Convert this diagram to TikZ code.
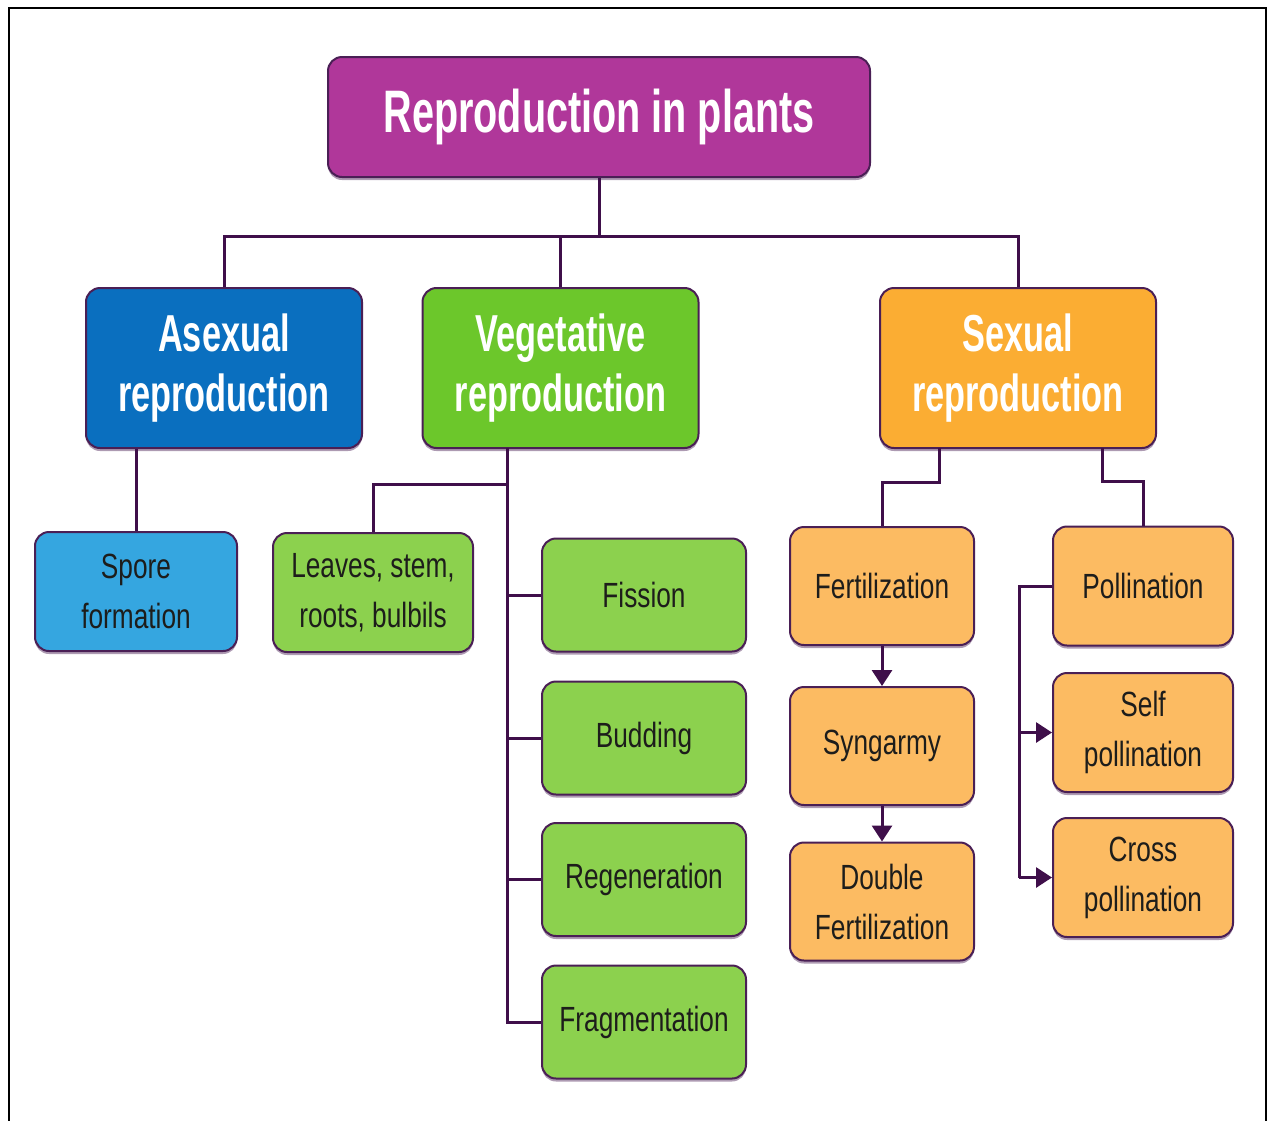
\documentclass[tikz,border=0pt]{standalone}
\usepackage{fontspec}
\setmainfont{Liberation Sans}[FakeStretch=0.75]
\newfontfamily\headfont{Liberation Sans}[FakeStretch=0.66]
\usetikzlibrary{arrows.meta,calc,shadows}
\definecolor{titlec}{HTML}{B0379A}
\definecolor{asexc}{HTML}{0A6FBF}
\definecolor{vegc}{HTML}{6CC72B}
\definecolor{sexc}{HTML}{FBAD33}
\definecolor{sporec}{HTML}{35A6E0}
\definecolor{greenc}{HTML}{8CD14E}
\definecolor{orangec}{HTML}{FCBB62}
\definecolor{edgec}{HTML}{4A1F55}
\definecolor{linec}{HTML}{3F0F4A}
\definecolor{txt}{HTML}{1D1D1B}
\begin{document}
\begin{tikzpicture}[x=0.5pt,y=-0.5pt,
  box/.style={draw=edgec, line width=1pt, rounded corners=7pt, inner sep=0pt, align=center,
    drop shadow={shadow xshift=0pt, shadow yshift=-1.5pt, opacity=0.45, fill=edgec}},
  topbox/.style={box, fill=titlec, text=white, minimum width=271pt, minimum height=60pt,
    font=\headfont\bfseries\fontsize{30}{34}\selectfont},
  big/.style={box, text=white, minimum width=138pt, minimum height=80pt,
    font=\headfont\bfseries\fontsize{26}{30}\selectfont},
  small/.style={box, text=txt, font=\fontsize{17.5}{25}\selectfont},
  vbox/.style={small, fill=greenc, minimum width=102pt, minimum height=56.5pt},
  fbox/.style={small, fill=orangec, minimum width=92pt, minimum height=59pt},
  pbox/.style={small, fill=orangec, minimum width=90pt, minimum height=59.5pt},
  conn/.style={draw=linec, line width=1.5pt},
  arr/.style={conn, -{Triangle[width=10pt,length=8pt]}}
]
\useasboundingbox (0,0) rectangle (1268,1120);
\draw[line width=1.1pt] (9,8) rectangle (1266,1140);

% nodes
\node[topbox] (title) at (599,117) {Reproduction in plants};
\node[big, fill=asexc] (asex) at (224,368) {Asexual\\reproduction};
\node[big, fill=vegc] (veg) at (560.5,368) {Vegetative\\reproduction};
\node[big, fill=sexc] (sex) at (1018,368) {Sexual\\reproduction};

\node[small, fill=sporec, minimum width=101pt, minimum height=59.5pt] (spore) at (136,591.5) {Spore\\formation};
\node[small, fill=greenc, minimum width=100pt, minimum height=59.5pt] (leaves) at (373,592.5) {Leaves, stem,\\roots, bulbils};

\node[vbox] (fission) at (644,595) {Fission};
\node[vbox] (budding) at (644,738) {Budding};
\node[vbox] (regen) at (644,879.5) {Regeneration};
\node[vbox] (frag) at (644,1022) {Fragmentation};

\node[fbox] (fert) at (882,586) {Fertilization};
\node[fbox] (syn) at (882,746) {Syngarmy};
\node[fbox] (dbl) at (882,901.5) {Double\\Fertilization};

\node[pbox] (poll) at (1143,586) {Pollination};
\node[pbox] (self) at (1143,732.5) {Self\\pollination};
\node[pbox] (cross) at (1143,877.5) {Cross\\pollination};

% junction coordinates
\coordinate (bar) at (599,236);
\coordinate (vt) at (507,448);
\coordinate (vj) at (507,484);
\coordinate (sl) at (939,448);
\coordinate (slj) at (939,482);
\coordinate (sr) at (1102,448);
\coordinate (srj) at (1102,481);
\coordinate (pt) at (1019,586);

% top level connectors
\draw[conn] (title.south) -- (bar);
\draw[conn] (asex.north) -- (asex.north |- bar) -- (sex.north |- bar) -- (sex.north);
\draw[conn] (veg.north) -- (veg.north |- bar);

% asexual
\draw[conn] (spore.north |- asex.south) -- (spore.north);

% vegetative
\draw[conn] (vt) -- (vt |- frag.west) -- (frag.west);
\draw[conn] (vj) -- (vj -| leaves.north) -- (leaves.north);
\draw[conn] (vt |- fission.west) -- (fission.west);
\draw[conn] (vt |- budding.west) -- (budding.west);
\draw[conn] (vt |- regen.west) -- (regen.west);

% sexual
\draw[conn] (sl) -- (slj) -- (slj -| fert.north) -- (fert.north);
\draw[conn] (sr) -- (srj) -- (srj -| poll.north) -- (poll.north);
\draw[arr] (fert.south) -- (syn.north);
\draw[arr] (syn.south) -- (dbl.north);
\draw[conn] (poll.west) -- (pt) -- (pt |- cross.west);
\draw[arr] (pt |- self.west) -- (self.west);
\draw[arr] (pt |- cross.west) -- (cross.west);
\end{tikzpicture}
\end{document}
